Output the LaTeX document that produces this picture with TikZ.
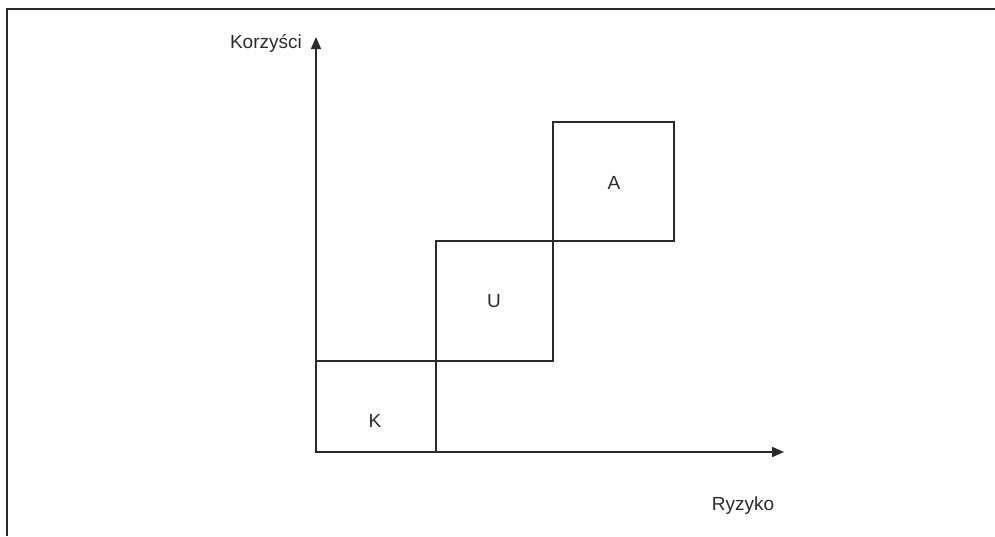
\documentclass[tikz,border=0pt]{standalone}
\usepackage{fontspec}
\setmainfont{Liberation Sans}
\usetikzlibrary{arrows.meta}
\definecolor{ink}{HTML}{2A2A2A}
\begin{document}
\begin{tikzpicture}[x=1pt,y=-1pt,
  line/.style={draw=ink,line width=1.6pt},
  zone/.style={draw=ink,line width=1.6pt,rectangle,inner sep=0pt,outer sep=0pt,anchor=north west},
  lbl/.style={text=ink,font=\fontsize{19}{22}\selectfont,inner sep=0pt},
  axis/.style={draw=ink,line width=1.6pt,-{Triangle[length=12pt,width=10pt]}}]
\useasboundingbox (0,0) rectangle (995,536);
% frame (top and left only)
\draw[line] (7,536) -- (7,9) -- (995,9);
% boxes
\node[zone,minimum width=120pt,minimum height=91pt] (K) at (316,361) {};
\node[zone,minimum width=117pt,minimum height=120pt] (U) at (436,241) {};
\node[zone,minimum width=121pt,minimum height=119pt] (Abox) at (553,122) {};
% labels
\node[lbl] (Kl) at (375,421) {K};
\node[lbl] (Ul) at (494,301) {U};
\node[lbl] (Al) at (614,183) {A};
% axes
\coordinate (O) at (316,452);
\coordinate (ytip) at (316,37);
\coordinate (xtip) at (784,452);
\draw[axis] (O) -- (ytip);
\draw[axis] (O) -- (xtip);
\node[lbl,anchor=east] (ylab) at (302,43) {Korzyści};
\node[lbl] (xlab) at (743,506) {Ryzyko};
\end{tikzpicture}
\end{document}
